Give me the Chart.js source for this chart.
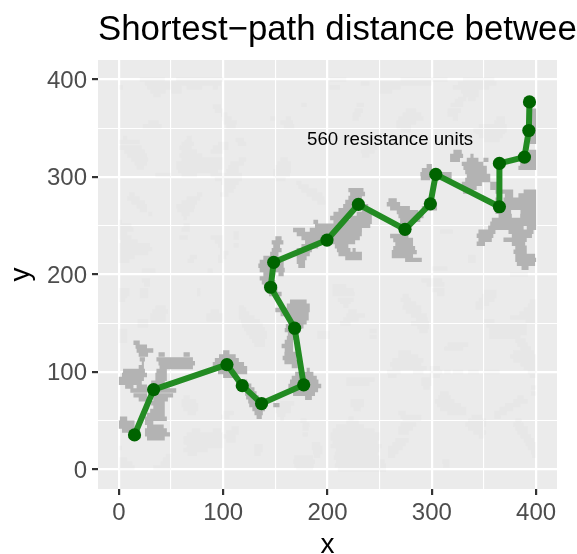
<!DOCTYPE html>
<html><head><meta charset="utf-8">
<style>html,body{margin:0;padding:0;background:#fff;overflow:hidden}canvas{display:block}</style>
<script src="https://cdn.jsdelivr.net/npm/chart.js@4"></script></head>
<body><canvas id="c" width="577" height="554"></canvas>
<script>
const titleText = "Shortest\u2212path distance between";
const xAxisName = "x", yAxisName = "y";
const noteText = "560 resistance units";
const notePos = [260, 338.5];
const gridValues = [0,50,100,150,200,250,300,350,400];
const pathX = [15,33.3,103.6,118.3,136.8,177.2,168.5,145.5,148.4,199.5,229.6,274.3,298.6,303.8,364.8,364.8,388.8,393,393.6];
const pathY = [35.5,82,107.6,86,67.6,86.8,144.9,186.9,212.5,235.3,271.9,246.3,272.5,302.7,269.5,313.9,320.4,347.7,377];
// raster runs: [y, x1, x2, x1, x2, ...]
const darkRuns = [
[130,14,20],[126,16,27],[122,17,33],[118,19,28,38,44,62,68],[113,20,25,36,71],[109,22,24,38,73],[105,19,24,39,71],[101,4,25,36,46],[97,3,27,35,46],[93,0,24,35,46],[89,0,22,31,44],[85,6,14,17,27],[81,11,27,39,55],[76,14,27,33,52],[72,19,28,33,47],[68,31,44],[64,33,44],[60,30,44],[56,27,44],[52,1,8,25,46],[48,0,15,25,33],[44,0,15,27,43],[40,3,14,25,46],[36,25,49],[32,27,44],
[172,164,180],[168,161,183],[163.6,150,183],[159.5,155,182],[155,161,182],[151,162.5,180],[147,160,168,172,177],[143,159,174],[139,162,170],[135,161,169],[130.8,159,167],[126.7,156,167],[122.6,159,167],[118.5,158.7,170],[114.4,157,170],[110.3,158.7,172],[106,165.7,171.5],[102,180,183],[98,169,186.5],[94,165.7,189.7],[90,164,191.3],[85.7,162.5,194],[81.6,164,191],[77.6,167,188],[73.5,178.5,185],
[120,100,106],[116,96,112],[112,92,115],[108,90,120],[104,92,123],[100,95,123],[96,100,110],
[90,117,123],[86,119,127],[82,120,130],[78,121,132],[74,122,134],[70,124,140],[66,125,140,148,154],[62,128,140],[58,130,138],[54,132,137],
[286.5,220,234.5],[282.5,221.7,236],[278.4,220,233],[274.3,217,225],[270,215,225,234.5,239],[266,210.5,223,233,241],[262,205.7,220,228,242.5],[258,202.5,217,221.7,242.5],[254,186.5,191,205.7,242.5],[250,188,241],[245.6,167,178.5,183,233],[241.5,170.5,232.9],[237.4,175,194.5,204,231],[233.3,178.5,196,202.5,226.5],[229,175,191,207,220],[225,170.5,185,209,222,224,227],[221,169,183,210.5,233],[217,170.5,180,217,233],[213,170.5,178.5],[209,172,178.5],
[237,150,156],[233,146.5,157.7],[229,148,154.5],[225,146.5,156],[221,145,153],[217,138.5,153],[213,135,158],[209,133.7,158],[204.6,135,159],[200.5,138.5,146.5,153,158],[196,135,148],[192,137,150],[188,139,150],[184,142,152],[180,144,156],
[311,295,300],[307,290.4,300],[303,289,319],[299,289.4,298.4,308,319],
[276,258.4,266.4],[272,256.8,269.6,295,305],[268,260,279,290.4,305],[264,266.4,287],[260,268,292],[256,269.6,289],[251.7,269.6,281],[247.6,268,279],[243.5,269.6,277.6],[239.5,260,277.6],[235.4,263,282],[231,265,282],[227,263,284],[223,261.6,285.6],[219,261.6,282],[215,274.4,290.4],
[368,394,400],[364,395,400],[360,395,400],[356,394,400],[352,394,400],[348,393,400],[344,393,400],[340,394,400],[336,394,400],
[325.8,320.7,328.7,393,400],[321.7,317.5,330,337,340,384,400],[317.6,317.5,327,333.5,344.7,349.5,354.3,384,400],[313.5,328.7,349.5,384.7,400],[309.4,330.3,352.7,383,400],[305,332,352.7],[301,333.5,356],[297,332,356],[293,328.7,348,356,364],[289,330,343,356,364],[285,330,340,361,378,388,400],[281,370,378,383,400],[276.6,361,364,368.7,400],[272.5,370,400],[268.4,361,400],[264.3,361,376,385,400],[260,364,376.7,384.7,400],[256,357.5,400],[252,356,400],[248,354,388,391,400],[243.9,344.7,361,373.5,397.5],[239.8,343,359,376.7,396],[235.7,344.7,357.5,368.7,391],[231.5,343,351,376.7,389.5],[227.5,380,391],[223.4,378.3,391],[219,380,399],[215,380,400],[211,381.5,399],[207,386,392.7]
];
const lightRuns = [
[400,20,44,55,100,202,218,270,315,330,360],[396,25,98,232,240,250,300,325,362],[392,0,4,27,60,65,80,90,95,202,212,250,270,320,355],[388,30,45,50,60,250,262,328,345],[384,33,40,330,345],[380,335,342,325,333],[378,322,330],
[374,175,180,228,235,318,330,394,400],[372,90,98],[368,92,100,275,285,226,234,315,328],[364,98,104,272,290,224,232,315,325],[360,99,108,268,292,224,230,320,325,145,150,160,165,362,370],[356,28,38,100,113,155,167,266,285,360,370],[352,23,41,103,112,158,168,266,280,345,372],[348,270,280,340,372],[346,342,370],[342,345,368],[338,350,365,112,120],
[340,4,8,65,70],[336,0,20,63,70],[334,95,105,114,122,60,72],[330,0,22,58,70,90,105,235,247],[326,5,25,60,75,88,100,232,245],[322,8,27,58,80,233,240],[318,12,28,60,100,115,122,155,162],[314,15,27,55,100,107,120,152,165],[310,17,24,55,100,105,115,150,165],[306,57,95,103,115,148,165],[302,35,50,60,75,88,118,148,164],[298,92,118,150,160],[294,98,115,170,175],[290,100,112,172,182],[286,100,110,175,190],[282,10,15,75,80,97,105,180,195],[278,8,20,65,78,185,197],[274,12,25,60,75,190,198],[270,17,27,55,73],[266,20,27,56,72],[262,28,32,60,68],[258,62,65],
[254,0,3],[250,0,12,62,68],[246,0,14,60,68],[244,308,320],[242,0,8,110,115],[238,0,12,58,66,88,100,110,115],[234,2,18,92,100],[230,0,30,95,100,110,115],[226,0,32,97,100],[222,0,28,97,105],[218,0,15,68,75,95,103,335,342],[214,0,10,66,72,95,100,335,342],[206,300,315],[204,22,35,85,90],[200,375,392],
[194,22,30,290,310],[190,24,30,295,312],[188,205,218],[184,0,10,20,28,75,78,205,225,300,312],[180,0,10,20,28,75,78,205,226,305,312],[182,350,362],[178,0,8,20,28,272,278,348,362],[174,0,6,270,280,345,360,210,225],[172,212,222,394,400],[170,273,285,342,355],[168,215,220,392,400],[166,35,45,115,120,272,290,342,350],[164,115,122,388,400],[162,32,47,88,96,220,228,275,290],[160,115,125,384,400],[158,30,45,84,100,218,236,280,295],[156,115,130,375,400],[154,30,45,84,100,215,230,285,296],[152,18,28,117,135,350,360,390,400],[150,18,28,212,222,280,297],[148,18,28,118,138,352,391],[146,286,297],[144,120,140,355,391],[142,0,8,240,247,288,296],[140,0,8,122,142,355,391,190,202],[136,0,8,125,142,240,247,355,385,190,202],[132,0,8,128,140,380,390],[128,130,140,315,335,382,392],[124,312,330,385,395],[120,268,280,378,398],[116,268,287,375,400],[112,262,292,378,400],[108,260,290,385,400],[104,262,295,298,308,388,400],[100,257,270,282,292,298,310,312,318,320,330,335,345,350,365,392,400],[96,258,266,298,308,394,400],
[92,218,245,290,300],[88,218,240,290,300],[84,395,400,292,298],[78,308,316,395,400],[74,62,68,306,318,382,388],[70,60,74,222,235,303,322,378,392],[68,155,168],[66,60,76,222,235,305,328,370,385],[64,150,165],[62,62,76,225,232,308,333,365,378],[60,150,165],[58,66,74,100,110,268,275,315,333,360,372],[56,152,160],[54,98,106,270,290,338,348,360,366],[52,155,158,220,225,272,290],[50,174,180,335,352,380,386],[48,218,230],[46,176,183,270,285,332,352,378,388],[44,208,235],[42,108,115,268,282,335,350,380,392,176,182],[40,70,78,90,98,205,245],[38,103,115,268,278,340,352,382,392],[36,65,100,203,250,176,181],[34,100,112,345,350,385,395],[32,62,100,203,250],[30,103,112,265,278,388,398],[28,62,100,205,248],[26,185,193,262,275,390,400],[24,65,100,130,138,203,252],[22,0,3,185,195,258,272,392,400],[20,62,85,130,138,208,250],[18,258,268,186,195,395,400],[16,66,75,207,248,130,136],[14,45,50,258,265,396,400,187,193],[12,206,250,168,186],[10,0,8,42,50],[8,208,255,167,188,310,317],[6,0,13,40,50],[4,207,256,168,187,311,317],[2,0,15,33,50,170,186],[0,210,256]
];
const toPoints = runs => {
  const out = [];
  for (const r of runs) {
    for (let i = 1; i < r.length; i += 2) {
      out.push({x:r[i],y:r[0]},{x:r[i+1],y:r[0]},{x:null,y:null});
    }
  }
  return out;
};
const pathPoints = pathX.map((x,i)=>({x,y:pathY[i]}));
const FONT = '"Liberation Sans", Arial, sans-serif';

const decor = {
  id:'decor',
  beforeDraw(ch){
    const a = ch.chartArea, c = ch.ctx;
    c.save(); c.fillStyle='#EBEBEB';
    c.fillRect(a.left,a.top,a.right-a.left,a.bottom-a.top); c.restore();
  },
  afterDraw(ch){
    const c = ch.ctx;
    c.save();
    c.fillStyle='#000'; c.textBaseline='alphabetic'; c.textAlign='left';
    c.font='34.8px '+FONT;
    c.fillText(titleText,98,39.5);
    c.font='18.7px '+FONT; c.textAlign='center'; c.textBaseline='middle';
    c.fillText(noteText,ch.scales.x.getPixelForValue(notePos[0]),ch.scales.y.getPixelForValue(notePos[1]));
    c.restore();
  }
};
const axisCommon = () => ({
  type:'linear', min:-20, max:420,
  afterBuildTicks(s){ s.ticks = gridValues.map(v=>({value:v})); },
  border:{display:false},
  grid:{
    color:'#fff', drawTicks:true, tickLength:6,
    lineWidth:ctx=>(ctx.tick && ctx.tick.value%100===0)?2.2:1.1,
    tickWidth:ctx=>(ctx.tick && ctx.tick.value%100===0)?2.2:0,
    tickColor:'#333333'
  },
  ticks:{
    color:'#4D4D4D', font:{family:FONT,size:24},
    autoSkip:false, maxRotation:0, minRotation:0,
    callback:v=>v%100===0?String(v):''
  }
});
const xAxis = axisCommon(); xAxis.ticks.padding = 4;
const yAxis = axisCommon(); yAxis.ticks.padding = 5; yAxis.ticks.labelOffset = 1.5;
new Chart(document.getElementById('c'),{
  type:'scatter',
  data:{datasets:[
    {data:toPoints(lightRuns),showLine:true,spanGaps:false,borderColor:'rgba(179,179,179,0.07)',borderWidth:4.4,pointRadius:0,borderCapStyle:'butt',order:3},
    {data:toPoints(darkRuns),showLine:true,spanGaps:false,borderColor:'#B3B3B3',borderWidth:4.4,pointRadius:0,borderCapStyle:'butt',order:2},
    {data:pathPoints,showLine:true,borderColor:'#228B22',borderWidth:6,borderJoinStyle:'round',pointRadius:6.6,pointBackgroundColor:'#006400',pointBorderWidth:0,order:1}
  ]},
  options:{
    responsive:false, animation:false,
    layout:{padding:{top:60,right:20,left:0,bottom:0}},
    plugins:{legend:{display:false},tooltip:{enabled:false},title:{display:false}},
    scales:{
      x:Object.assign(xAxis,{
        afterFit(s){s.height=65;},
        title:{display:true,text:xAxisName,color:'#000',font:{family:FONT,size:28},padding:{top:0,bottom:-8}}
      }),
      y:Object.assign(yAxis,{
        afterFit(s){s.width=98;},
        title:{display:true,text:yAxisName,color:'#000',font:{family:FONT,size:28},padding:{top:4,bottom:0}}
      })
    }
  },
  plugins:[decor]
});
</script></body></html>
